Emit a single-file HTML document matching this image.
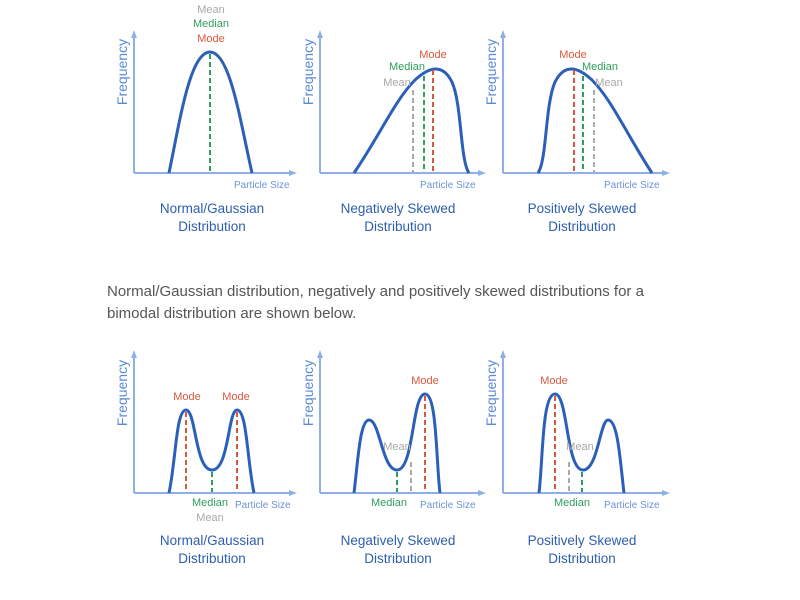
<!DOCTYPE html>
<html><head><meta charset="utf-8"><style>
body{margin:0;background:#fff;width:800px;height:595px;overflow:hidden}
svg{font-family:"Liberation Sans",sans-serif}
.ax{stroke:#8fb0e6;stroke-width:2;fill:none}
.c{stroke:#2c5fb8;stroke-width:3;fill:none}
.r{stroke:#d9583b;stroke-width:2;stroke-dasharray:5,3}
.g{stroke:#2e9e5c;stroke-width:2;stroke-dasharray:5,3}
.m{stroke:#aaa;stroke-width:2;stroke-dasharray:5,3}
.fq{fill:#5a8ad6;font-size:14px}
.ps{fill:#6c93d6;font-size:10px}
.t{fill:#2d5fae;font-size:13.5px;text-anchor:middle}
.lr{fill:#d9583b;font-size:11px;text-anchor:middle}
.lg{fill:#2e9e5c;font-size:11px;text-anchor:middle}
.lm{fill:#a8a8a8;font-size:11px;text-anchor:middle}
.p{fill:#555;font-size:15px}
</style></head><body>
<svg width="800" height="595" viewBox="0 0 800 595">
<defs><marker id="a" markerUnits="userSpaceOnUse" markerWidth="8" markerHeight="8" refX="4" refY="4" orient="auto"><path d="M0,1 L8,4 L0,7 Z" fill="#8fb0e6"/></marker></defs>
<g>
<path class="ax" d="M134,173 V34" marker-end="url(#a)"/><path class="ax" d="M134,173 H293" marker-end="url(#a)"/>
<text class="fq" transform="translate(127,72) rotate(-90)" text-anchor="middle">Frequency</text>
<path class="c" d="M169,173 C180,120 190,52 210,52 C230,52 240,120 252,173"/>
<line class="g" x1="210" y1="54" x2="210" y2="172"/>
<text class="lm" x="211" y="13">Mean</text><text class="lg" x="211" y="27">Median</text><text class="lr" x="211" y="42">Mode</text>
<text class="ps" x="234" y="188">Particle Size</text>
<text class="t" x="212" y="213">Normal/Gaussian</text><text class="t" x="212" y="231">Distribution</text>
</g>
<g>
<path class="ax" d="M320,173 V34" marker-end="url(#a)"/><path class="ax" d="M320,173 H482" marker-end="url(#a)"/>
<text class="fq" transform="translate(313,72) rotate(-90)" text-anchor="middle">Frequency</text>
<path class="c" d="M354,173 C380,135 395,100 415,80 C428,68 442,62 452,82 C462,105 460,160 469,173"/>
<line class="r" x1="433" y1="70" x2="433" y2="172"/><line class="g" x1="424" y1="76" x2="424" y2="172"/><line class="m" x1="413" y1="90" x2="413" y2="172"/>
<text class="lr" x="433" y="58">Mode</text><text class="lg" x="407" y="70">Median</text><text class="lm" x="397" y="86">Mean</text>
<text class="ps" x="420" y="188">Particle Size</text>
<text class="t" x="398" y="213">Negatively Skewed</text><text class="t" x="398" y="231">Distribution</text>
</g>
<g>
<path class="ax" d="M503,173 V34" marker-end="url(#a)"/><path class="ax" d="M503,173 H666" marker-end="url(#a)"/>
<text class="fq" transform="translate(496,72) rotate(-90)" text-anchor="middle">Frequency</text>
<path class="c" d="M538,173 C547,160 545,105 555,82 C565,62 579,68 592,80 C612,100 627,135 652,173"/>
<line class="r" x1="574" y1="70" x2="574" y2="172"/><line class="g" x1="583" y1="76" x2="583" y2="172"/><line class="m" x1="594" y1="90" x2="594" y2="172"/>
<text class="lr" x="573" y="58">Mode</text><text class="lg" x="600" y="70">Median</text><text class="lm" x="609" y="86">Mean</text>
<text class="ps" x="604" y="188">Particle Size</text>
<text class="t" x="582" y="213">Positively Skewed</text><text class="t" x="582" y="231">Distribution</text>
</g>
<text class="p" x="107" y="296">Normal/Gaussian distribution, negatively and positively skewed distributions for a</text>
<text class="p" x="107" y="318">bimodal distribution are shown below.</text>
<g>
<path class="ax" d="M134,493 V354" marker-end="url(#a)"/><path class="ax" d="M134,493 H293" marker-end="url(#a)"/>
<text class="fq" transform="translate(127,393) rotate(-90)" text-anchor="middle">Frequency</text>
<path class="c" d="M169,493 C176,460 176,410 186,410 C196,410 195,470 212,470 C229,470 228,410 237,410 C247,410 247,460 254,493"/>
<line class="r" x1="186" y1="412" x2="186" y2="492"/><line class="r" x1="237" y1="412" x2="237" y2="492"/><line class="g" x1="212" y1="472" x2="212" y2="492"/>
<text class="lr" x="187" y="400">Mode</text><text class="lr" x="236" y="400">Mode</text>
<text class="lg" x="210" y="506">Median</text><text class="lm" x="210" y="521">Mean</text>
<text class="ps" x="235" y="508">Particle Size</text>
<text class="t" x="212" y="545">Normal/Gaussian</text><text class="t" x="212" y="563">Distribution</text>
</g>
<g>
<path class="ax" d="M320,493 V354" marker-end="url(#a)"/><path class="ax" d="M320,493 H482" marker-end="url(#a)"/>
<text class="fq" transform="translate(313,393) rotate(-90)" text-anchor="middle">Frequency</text>
<path class="c" d="M354,493 C358,460 360,420 369,420 C380,420 382,470 397,470 C414,470 412,394 425,394 C437,394 436,460 440,493"/>
<line class="r" x1="425" y1="396" x2="425" y2="492"/><line class="g" x1="397" y1="472" x2="397" y2="492"/><line class="m" x1="411" y1="462" x2="411" y2="492"/>
<text class="lr" x="425" y="384">Mode</text><text class="lm" x="397" y="450">Mean</text>
<text class="lg" x="389" y="506">Median</text><text class="ps" x="420" y="508">Particle Size</text>
<text class="t" x="398" y="545">Negatively Skewed</text><text class="t" x="398" y="563">Distribution</text>
</g>
<g>
<path class="ax" d="M503,493 V354" marker-end="url(#a)"/><path class="ax" d="M503,493 H666" marker-end="url(#a)"/>
<text class="fq" transform="translate(496,393) rotate(-90)" text-anchor="middle">Frequency</text>
<path class="c" d="M539,493 C543,460 542,394 555,394 C568,394 566,470 583,470 C598,470 600,420 608,420 C618,420 620,460 624,493"/>
<line class="r" x1="555" y1="396" x2="555" y2="492"/><line class="m" x1="569" y1="462" x2="569" y2="492"/><line class="g" x1="582" y1="472" x2="582" y2="492"/>
<text class="lr" x="554" y="384">Mode</text><text class="lm" x="580" y="450">Mean</text>
<text class="lg" x="572" y="506">Median</text><text class="ps" x="604" y="508">Particle Size</text>
<text class="t" x="582" y="545">Positively Skewed</text><text class="t" x="582" y="563">Distribution</text>
</g>
</svg>
</body></html>
